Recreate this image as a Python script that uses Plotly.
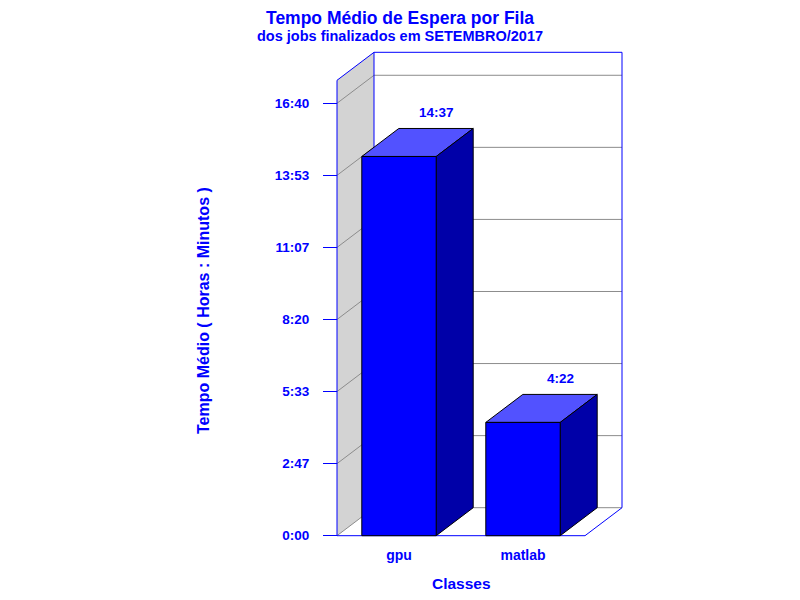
"""Tempo medio de espera por fila - grafico de barras com efeito 3D."""

import plotly.graph_objects as go

CLASSES = ["gpu", "matlab"]
WAIT_SECONDS = [52620, 15720]  # 14:37 e 4:22 (horas:minutos)
TICK_SECONDS = [0, 10000, 20000, 30000, 40000, 50000, 60000]
TICK_LABELS = ["0:00", "2:47", "5:33", "8:20", "11:07", "13:53", "16:40"]

BLUE = "#0000ff"
BAR_FRONT = "#0000ff"
BAR_TOP = "#5252ff"
BAR_SIDE = "#0000a8"
WALL = "#d3d3d3"
GRID = "#8c8c8c"
FONT = "Liberation Sans, Arial, sans-serif"

# page geometry: the figure sits 8px into the window (body margin)
SHIFT = 8
W, H = 800, 600
M_L, M_R, M_T, M_B = 312, 168, 32, 58
X0_PX, X_UNIT_PX = 337.0 - SHIFT, 124.0          # x=0 and one category slot
Y0_PX, Y_PX_PER_SEC = 535.7 - SHIFT, 72.07 / 10000
DEPTH_X_PX, DEPTH_Y_PX = 37.0, 28.0
BACK_TOP_PX = 52.3 - SHIFT

PLOT_W = W - M_L - M_R
PLOT_H = H - M_T - M_B

DX = DEPTH_X_PX / X_UNIT_PX
DY = DEPTH_Y_PX / Y_PX_PER_SEC
Y_BACK_TOP = (Y0_PX - BACK_TOP_PX) / Y_PX_PER_SEC
Y_FRONT_TOP = Y_BACK_TOP - DY
N = len(CLASSES)
HALF_W = 0.3


def hm(seconds):
    minutes = int(round(seconds / 60.0))
    return f"{minutes // 60}:{minutes % 60:02d}"


def paper_x(px):
    return (px - M_L) / PLOT_W


def paper_y(py):
    return (H - M_B - py) / PLOT_H


def line(xs, ys, color, width=1):
    return go.Scatter(x=xs, y=ys, mode="lines", line=dict(color=color, width=width),
                      hoverinfo="skip", showlegend=False)


def poly(xs, ys, fill):
    return go.Scatter(x=xs + [xs[0]], y=ys + [ys[0]], mode="lines", fill="toself",
                      fillcolor=fill, line=dict(color="black", width=1),
                      hoverinfo="skip", showlegend=False)


fig = go.Figure()

# left wall
fig.add_trace(go.Scatter(x=[0, DX, DX, 0, 0], y=[0, DY, Y_BACK_TOP, Y_FRONT_TOP, 0],
                         mode="lines", fill="toself", fillcolor=WALL,
                         line=dict(width=0), hoverinfo="skip", showlegend=False))

# grid on the wall and the back plane
for t in TICK_SECONDS:
    fig.add_trace(line([0, DX, N + DX], [t, t + DY, t + DY], GRID))

# frame
fig.add_trace(line([0, 0, DX, N + DX, N + DX], [0, Y_FRONT_TOP, Y_BACK_TOP, Y_BACK_TOP, DY], BLUE))
fig.add_trace(line([DX, DX], [DY, Y_BACK_TOP], BLUE))
fig.add_trace(line([0, N, N + DX], [0, 0, DY], BLUE))

# bars
for i, v in enumerate(WAIT_SECONDS):
    c = i + 0.5
    a, b = c - HALF_W, c + HALF_W
    fig.add_trace(poly([a, b, b + DX, a + DX], [v, v, v + DY, v + DY], BAR_TOP))
    fig.add_trace(poly([b, b + DX, b + DX, b], [0, DY, v + DY, v], BAR_SIDE))
    fig.add_trace(poly([a, b, b, a], [0, 0, v, v], BAR_FRONT))
    fig.add_annotation(x=c + DX, y=v + DY, text=hm(v), showarrow=False, yshift=16,
                       font=dict(family=FONT, size=13.5, color=BLUE, weight="bold"))

x_range = [(M_L - X0_PX) / X_UNIT_PX, (W - M_R - X0_PX) / X_UNIT_PX]
y_range = [(Y0_PX - (H - M_B)) / Y_PX_PER_SEC, (Y0_PX - M_T) / Y_PX_PER_SEC]

fig.update_layout(
    width=W, height=H,
    margin=dict(l=M_L, r=M_R, t=M_T, b=M_B),
    paper_bgcolor="white", plot_bgcolor="white",
    showlegend=False,
    xaxis=dict(range=x_range, anchor="free", position=paper_y(Y0_PX),
               tickvals=[i + 0.5 for i in range(N)], ticktext=CLASSES,
               ticks="", showgrid=False, zeroline=False, showline=False,
               ticklabelstandoff=9,
               tickfont=dict(family=FONT, size=14, color=BLUE, weight="bold")),
    yaxis=dict(range=y_range, anchor="free", position=paper_x(X0_PX),
               tickvals=TICK_SECONDS, ticktext=TICK_LABELS,
               ticks="outside", ticklen=14, tickwidth=1, tickcolor=BLUE,
               ticklabelstandoff=11,
               showgrid=False, zeroline=False, showline=False,
               tickfont=dict(family=FONT, size=13.5, color=BLUE, weight="bold")),
)

# title pushed a little down so it is not clipped by the page margin
texts = [
    ("Tempo Médio de Espera por Fila", 400, 18.5, 17.5, 0),
    ("dos jobs finalizados em SETEMBRO/2017", 400, 36, 14.5, 0),
    ("Tempo Médio ( Horas : Minutos )", 203, 311, 16, -90),
    ("Classes", 461, 583, 15.5, 0),
]
for text, px, py, size, angle in texts:
    fig.add_annotation(x=paper_x(px - SHIFT), y=paper_y(py - SHIFT), xref="paper", yref="paper",
                       text=text, showarrow=False, textangle=angle, borderpad=0,
                       xanchor="center", yanchor="middle",
                       font=dict(family=FONT, size=size, color=BLUE, weight="bold"))

fig.write_html("out.html")
